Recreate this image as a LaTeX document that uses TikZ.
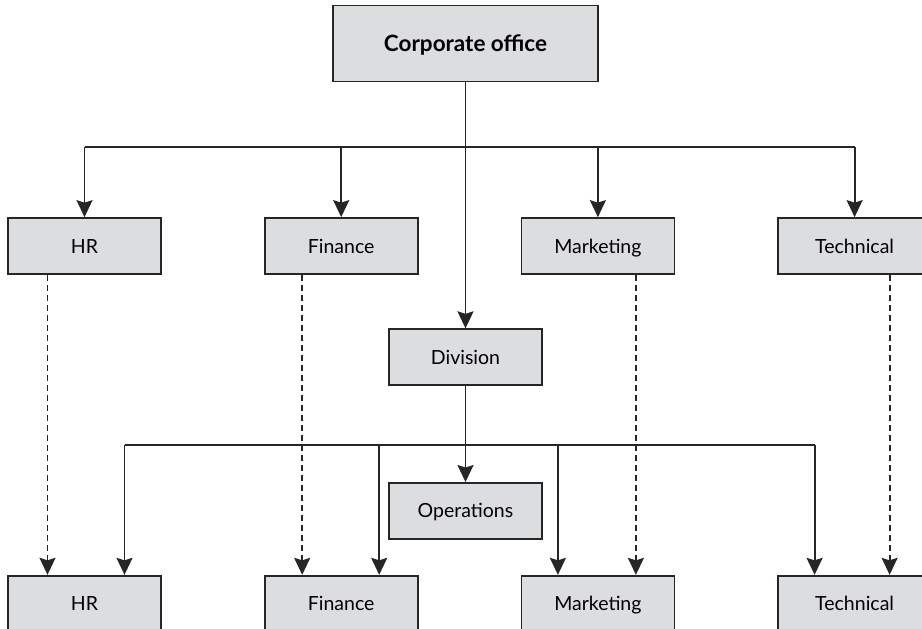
\documentclass[tikz,border=0pt]{standalone}
\usepackage{fontspec}
\setmainfont{Lato}
\usepackage{xcolor}
\usepackage{tikz}
\usetikzlibrary{arrows.meta,positioning}

\definecolor{boxfill}{HTML}{DCDDDF}
\definecolor{ink}{HTML}{262626}

\tikzset{
  unit/.style={draw=ink, line width=1.7pt, fill=boxfill, minimum width=153pt,
    minimum height=56pt, inner sep=0pt, text height=14pt, text depth=0pt,
    font=\fontsize{19.5}{22}\selectfont},
  link/.style={draw=ink, line width=1.8pt},
  arr/.style={link, -{Stealth[length=17pt,width=16pt,inset=2.5pt]}},
  dash arr/.style={arr, dash pattern=on 6pt off 4pt}
}

\begin{document}
\begin{tikzpicture}
  \useasboundingbox (0pt,0pt) rectangle (922pt,-629pt);

  \node[unit, minimum width=265pt, minimum height=76pt, text height=16pt,
        font=\fontsize{22.5}{26}\selectfont\bfseries]
                                                     at (465.5pt,-43.5pt) (corp) {Corporate office};
  \node[unit]                                        at (84.5pt,-246pt)   (hr1)  {HR};
  \node[unit, node distance=102pt, right=of hr1]     (fin1)   {Finance};
  \node[unit, node distance=102pt, right=of fin1]    (mkt1)   {Marketing};
  \node[unit, node distance=102pt, right=of mkt1]    (tech1)  {Technical};
  \node[unit, node distance=246pt, below=of corp]    (div)    {Division};
  \node[unit, node distance=96pt, below=of div]      (ops)    {Operations};
  \node[unit, node distance=300pt, below=of hr1]     (hr2)    {HR};
  \node[unit, node distance=300pt, below=of fin1]    (fin2)   {Finance};
  \node[unit, node distance=300pt, below=of mkt1]    (mkt2)   {Marketing};
  \node[unit, node distance=300pt, below=of tech1]   (tech2)  {Technical};

  % buses
  \coordinate[node distance=65pt, below=of corp] (bus1);
  \coordinate[node distance=59pt, below=of div]  (bus2);
  \coordinate (hr2in)   at ([xshift=40pt]hr2.north);
  \coordinate (fin2in)  at ([xshift=38pt]fin2.north);
  \coordinate (mkt2in)  at ([xshift=-40pt]mkt2.north);
  \coordinate (tech2in) at ([xshift=-40pt]tech2.north);

  \draw[link] (corp) -- (bus1);
  \draw[link] (bus1 -| hr1) -- (bus1 -| tech1);
  \foreach \n in {hr1,fin1,mkt1,tech1}
    \draw[arr] (bus1 -| \n) -- (\n);
  \draw[arr] (bus1) -- (div);

  \draw[link] (bus2 -| hr2in) -- (bus2 -| tech2in);
  \draw[arr] (div) -- (ops);
  \foreach \n in {hr2in,fin2in,mkt2in,tech2in}
    \draw[arr] (bus2 -| \n) -- (\n);

  % dotted reporting lines
  \draw[dash arr] ([xshift=-37pt]hr1.south)   -- ([xshift=-37pt]hr2.north);
  \draw[dash arr] ([xshift=-39pt]fin1.south)  -- ([xshift=-39pt]fin2.north);
  \draw[dash arr] ([xshift=38pt]mkt1.south)   -- ([xshift=38pt]mkt2.north);
  \draw[dash arr] ([xshift=35pt]tech1.south)  -- ([xshift=35pt]tech2.north);
\end{tikzpicture}
\end{document}
